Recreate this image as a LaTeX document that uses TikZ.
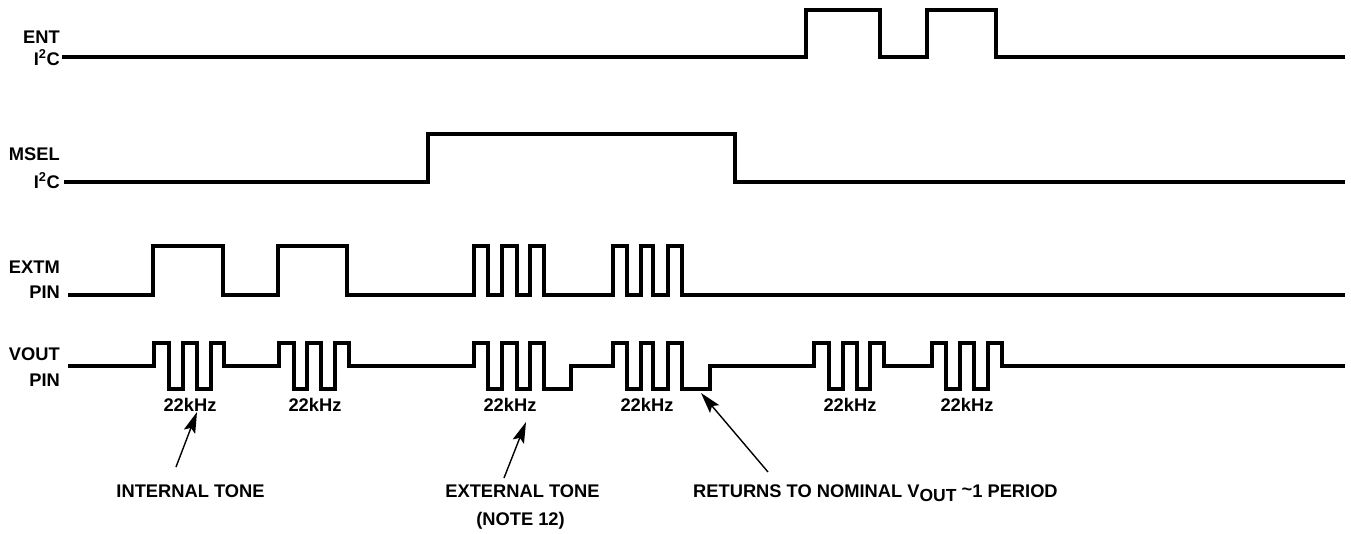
\documentclass[tikz,border=0pt]{standalone}
\usepackage{fontspec}
\setmainfont{Liberation Sans}
\usetikzlibrary{arrows.meta}
\newcommand\lbfont{\fontsize{18.3}{22}\selectfont\bfseries}
\newcommand\subout{\raisebox{-4.5pt}{\fontsize{17.5}{20}\selectfont OUT}}
\tikzset{
  wave/.style={line width=3.6pt, line join=miter, line cap=rect},
  lbl/.style={font=\lbfont, inner sep=0pt},
  callout/.style={line width=1.4pt, -{Stealth[length=21pt,width=12pt,inset=4pt]}}
}
\begin{document}
\begin{tikzpicture}[x=1pt,y=-1pt]
\useasboundingbox (0,0) rectangle (1351,533);
% left labels
\node[lbl, anchor=base east] (ent) at (60,43) {ENT};
\node[lbl, anchor=base east] (entc) at (60,65) {I\textsuperscript{2}C};
\node[lbl, anchor=base east] (msel) at (60,160) {MSEL};
\node[lbl, anchor=base east] (mselc) at (60,188) {I\textsuperscript{2}C};
\node[lbl, anchor=base east] (extm) at (60,273) {EXTM};
\node[lbl, anchor=base east] (extmp) at (60,298) {PIN};
\node[lbl, anchor=base east] (vout) at (60,360) {VOUT};
\node[lbl, anchor=base east] (voutp) at (60,386) {PIN};
% ENT
\draw[wave] (64,57) -- (806,57) -- (806,10) -- (880,10) -- (880,57) -- (927,57) -- (927,10) -- (996,10) -- (996,57) -- (1343,57);
% MSEL
\draw[wave] (66,182) -- (428,182) -- (428,134) -- (735,134) -- (735,182) -- (1343,182);
% EXTM
\draw[wave] (70,295) -- (153,295) -- (153,246) -- (223,246) -- (223,295) -- (278,295) -- (278,246) -- (347,246) -- (347,295)
  -- (474,295) -- (474,246) -- (488,246) -- (488,295) -- (502,295) -- (502,246) -- (517,246) -- (517,295) -- (530,295) -- (530,246) -- (544,246) -- (544,295)
  -- (613,295) -- (613,246) -- (627,246) -- (627,295) -- (641,295) -- (641,246) -- (653,246) -- (653,295) -- (668,295) -- (668,246) -- (682,246) -- (682,295)
  -- (1343,295);
% VOUT
\draw[wave] (70,366) -- (154,366) -- (154,343) -- (169,343) -- (169,389) -- (183,389) -- (183,343) -- (197,343) -- (197,389) -- (211,389) -- (211,343) -- (224,343) -- (224,366)
  -- (279,366) -- (279,343) -- (294,343) -- (294,389) -- (307,389) -- (307,343) -- (321,343) -- (321,389) -- (335,389) -- (335,343) -- (349,343) -- (349,366)
  -- (474,366) -- (474,343) -- (488,343) -- (488,389) -- (502,389) -- (502,343) -- (517,343) -- (517,389) -- (530,389) -- (530,343) -- (544,343) -- (544,389) -- (571,389) -- (571,366)
  -- (613,366) -- (613,343) -- (627,343) -- (627,389) -- (641,389) -- (641,343) -- (653,343) -- (653,389) -- (668,389) -- (668,343) -- (682,343) -- (682,389) -- (710,389) -- (710,366)
  -- (814,366) -- (814,343) -- (829,343) -- (829,389) -- (843,389) -- (843,343) -- (857,343) -- (857,389) -- (870,389) -- (870,343) -- (884,343) -- (884,366)
  -- (932,366) -- (932,343) -- (946,343) -- (946,389) -- (960,389) -- (960,343) -- (974,343) -- (974,389) -- (988,389) -- (988,343) -- (1002,343) -- (1002,366)
  -- (1343,366);
% 22kHz labels
\foreach \x/\n in {190/k1,315/k2,510/k3,647/k4,850/k5,967/k6}
  \node[lbl, anchor=base] (\n) at (\x,411) {22kHz};
% bottom labels
\node[lbl, anchor=base] (inttone) at (190.5,497) {INTERNAL TONE};
\node[lbl, anchor=base] (exttone) at (522.5,497) {EXTERNAL TONE};
\node[lbl, anchor=base] (note) at (520.5,525) {(NOTE 12)};
\node[lbl, anchor=base west] (ret) at (693,497) {RETURNS TO NOMINAL V\subout{} \raisebox{2pt}{\textasciitilde}1 PERIOD};
% callouts
\coordinate (a1s) at (176,467);
\coordinate (a1e) at (197,412);
\coordinate (a2s) at (504,478);
\coordinate (a2e) at (526,422);
\coordinate (a3s) at (768,472);
\coordinate (a3e) at (701,393);
\draw[callout] (a1s) -- (a1e);
\draw[callout] (a2s) -- (a2e);
\draw[callout] (a3s) -- (a3e);
\end{tikzpicture}
\end{document}
